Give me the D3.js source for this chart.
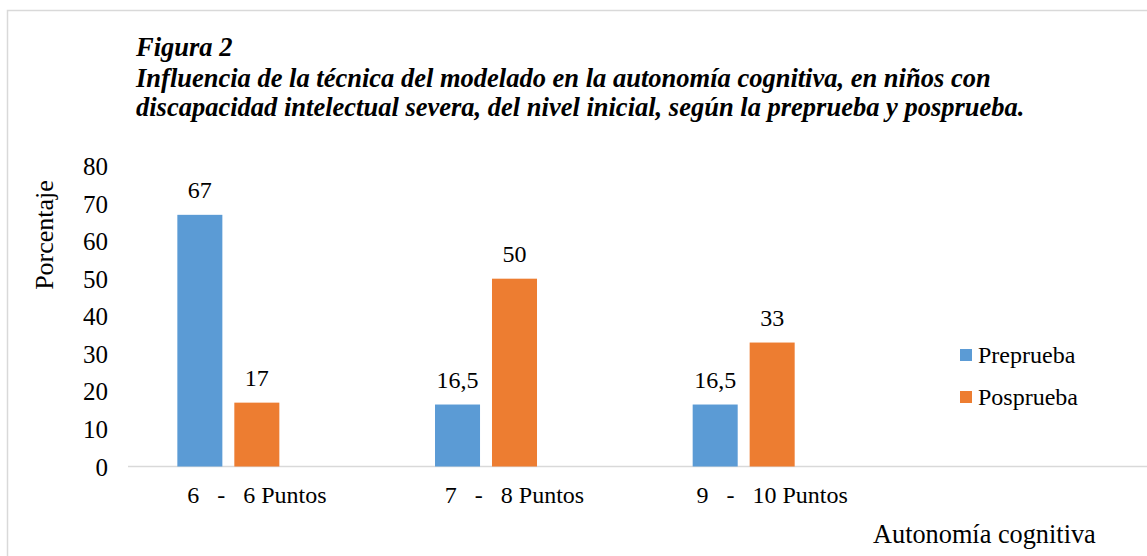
<!DOCTYPE html>
<html>
<head>
<meta charset="utf-8">
<script src="https://cdn.jsdelivr.net/npm/d3@7"></script>
<style>
  body { margin: 0; background: #fff; }
  svg text { font-family: "Liberation Serif", "Times New Roman", serif; fill: #000; }
</style>
</head>
<body>
<div id="chart"></div>
<script>
// data
const categories = ["6   -   6 Puntos", "7   -   8 Puntos", "9   -   10 Puntos"];
const seriesNames = ["Preprueba", "Posprueba"];
const preprueba = [67, 16.5, 16.5];
const posprueba = [17, 50, 33];
const yTicks = [0, 10, 20, 30, 40, 50, 60, 70, 80];
const titleLines = [
    "Figura 2",
    "Influencia de la técnica del modelado en la autonomía cognitiva, en niños con",
    "discapacidad intelectual severa, del nivel inicial, según la preprueba y posprueba."
];

const W = 1147, H = 556;
const colors = {Preprueba: "#5b9bd5", Posprueba: "#ed7d31"};
const fontSize = 24;

const svg = d3.select("#chart").append("svg")
    .attr("width", W)
    .attr("height", H);

// outer frame of the figure
svg.append("rect")
    .attr("x", 7.5).attr("y", 10.5)
    .attr("width", W).attr("height", H)
    .attr("fill", "none")
    .attr("stroke", "#d9d9d9")
    .attr("stroke-width", 1.5);

// title
svg.append("g")
    .selectAll("text")
    .data(titleLines)
    .join("text")
    .attr("x", 136)
    .attr("y", (d, i) => [56, 87, 116][i])
    .attr("font-size", 26.5)
    .attr("font-weight", "bold")
    .attr("font-style", "italic")
    .text(d => d);

const plot = {left: 128, right: 901, top: 166, bottom: 466.5};

const y = d3.scaleLinear()
    .domain([0, 80])
    .range([plot.bottom, plot.top]);

const x0 = d3.scaleBand()
    .domain(categories)
    .range([plot.left, plot.right])
    .paddingInner(0.383)
    .paddingOuter(0.1915);

// the original chart keeps an empty third series slot, so bars sit left of the label
const x1 = d3.scaleBand()
    .domain([...seriesNames, ""])
    .range([0, x0.bandwidth()])
    .paddingInner(0.21);

// y axis labels (no axis line, no gridlines)
const yAxis = d3.axisLeft(y).tickValues(yTicks).tickSize(0).tickPadding(0);
svg.append("g")
    .attr("transform", "translate(108,0)")
    .call(yAxis)
    .call(g => g.select(".domain").remove())
    .call(g => g.selectAll("text")
        .attr("font-size", 25)
        .attr("dy", "0.34em"));

// category axis line
svg.append("line")
    .attr("x1", plot.left).attr("x2", W)
    .attr("y1", plot.bottom).attr("y2", plot.bottom)
    .attr("stroke", "#d9d9d9")
    .attr("stroke-width", 1.5);

// category labels, centred on the whole group slot
svg.append("g")
    .selectAll("text")
    .data(categories)
    .join("text")
    .attr("x", d => x0(d) + x0.bandwidth() / 2)
    .attr("y", 503)
    .attr("text-anchor", "middle")
    .attr("font-size", fontSize)
    .style("white-space", "pre")
    .text(d => d);

const rows = [];
categories.forEach((c, i) => {
    rows.push({cat: c, series: "Preprueba", value: preprueba[i]});
    rows.push({cat: c, series: "Posprueba", value: posprueba[i]});
});

const fmt = v => String(v).replace(".", ",");

const bars = svg.append("g")
    .selectAll(".barG")
    .data(rows)
    .join("g")
    .attr("class", "barG")
    .attr("transform", d => "translate(" + (x0(d.cat) + x1(d.series)) + ",0)");

bars.append("rect")
    .attr("x", 0)
    .attr("y", d => y(d.value))
    .attr("width", x1.bandwidth())
    .attr("height", d => y(0) - y(d.value))
    .attr("fill", d => colors[d.series]);

bars.append("text")
    .attr("x", x1.bandwidth() / 2)
    .attr("y", d => y(d.value) - 17)
    .attr("text-anchor", "middle")
    .attr("font-size", fontSize)
    .text(d => fmt(d.value));

// y axis title
svg.append("text")
    .attr("transform", "translate(53,235) rotate(-90)")
    .attr("text-anchor", "middle")
    .attr("font-size", 26)
    .text("Porcentaje");

// x axis title
svg.append("text")
    .attr("x", 873)
    .attr("y", 543)
    .attr("font-size", 26.3)
    .text("Autonomía cognitiva");

// legend
const legend = svg.append("g")
    .selectAll("g")
    .data(seriesNames)
    .join("g")
    .attr("transform", (d, i) => "translate(960," + (349 + i * 42) + ")");

legend.append("rect")
    .attr("width", 12).attr("height", 12)
    .attr("fill", d => colors[d]);

legend.append("text")
    .attr("x", 18)
    .attr("y", 14)
    .attr("font-size", fontSize)
    .text(d => d);
</script>
</body>
</html>
